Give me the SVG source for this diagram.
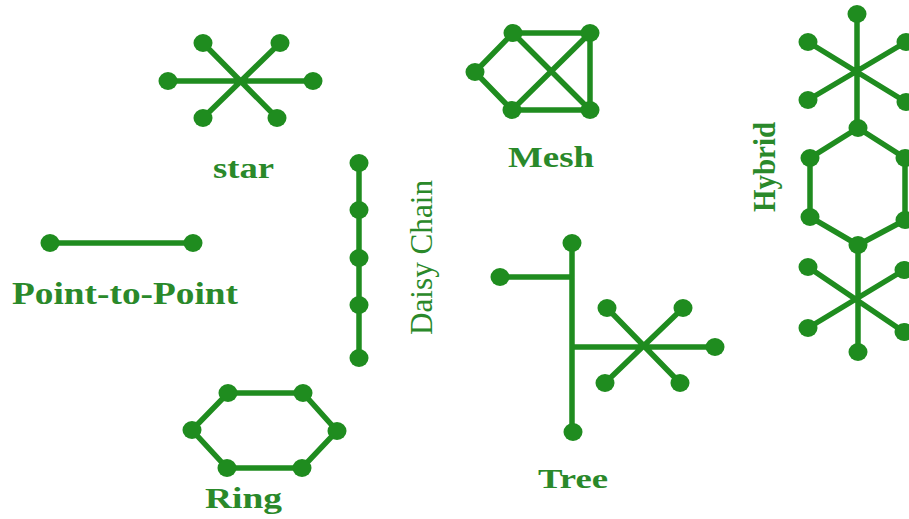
<svg xmlns="http://www.w3.org/2000/svg" width="909" height="519" viewBox="0 0 909 519">
<style>
.e{stroke:#1f8c1f;stroke-width:5.5;stroke-linecap:round;fill:none}
.n{fill:#1f8c1f}
.t{font-family:"Liberation Serif","Times New Roman",serif;font-weight:bold;fill:#2a892a}
.r{font-weight:normal}
</style>
<defs><ellipse id="d" rx="9.5" ry="9" class="n"/></defs>
<rect width="909" height="519" fill="#ffffff"/>

<g id="connectors">
  <!-- star -->
  <path class="e" d="M203,43L277,118M280,43L203,118M168,81H313"/>
  <!-- mesh -->
  <path class="e" d="M513,33H590V110H512L475,72Z M513,33L590,110 M590,33L512,110"/>
  <!-- point to point -->
  <path class="e" d="M50,243H193"/>
  <!-- daisy chain -->
  <path class="e" d="M359,163V358"/>
  <!-- ring -->
  <path class="e" d="M228,393H303L337,431L302,468H227L192,430Z"/>
  <!-- tree -->
  <path class="e" d="M572,243V432M500,277H572M572,347H715M607,308L680,383M683,308L605,383"/>
  <!-- hybrid -->
  <path class="e" d="M857,14V128M808,42L906,102M906,42L808,100"/>
  <path class="e" d="M858,128L905,158V220L858,245L810,217V158Z"/>
  <path class="e" d="M858,245V352M808,267L904,332M904,270L808,328"/>
</g>

<g id="star">
  <use href="#d" x="203" y="43"/><use href="#d" x="280" y="43"/>
  <use href="#d" x="168" y="81"/><use href="#d" x="313" y="81"/>
  <use href="#d" x="203" y="118"/><use href="#d" x="277" y="118"/>
  <text class="t" x="213" y="178" font-size="29" textLength="61" lengthAdjust="spacingAndGlyphs">star</text>
</g>

<g id="mesh">
  <use href="#d" x="513" y="33"/><use href="#d" x="590" y="33"/>
  <use href="#d" x="475" y="72"/><use href="#d" x="512" y="110"/>
  <use href="#d" x="590" y="110"/>
  <text class="t" x="508" y="167" font-size="30" textLength="86" lengthAdjust="spacingAndGlyphs">Mesh</text>
</g>

<g id="point-to-point">
  <use href="#d" x="50" y="243"/><use href="#d" x="193" y="243"/>
  <text class="t" x="12" y="304" font-size="32" textLength="226" lengthAdjust="spacingAndGlyphs">Point-to-Point</text>
</g>

<g id="daisy-chain">
  <use href="#d" x="359" y="163"/><use href="#d" x="359" y="210"/>
  <use href="#d" x="359" y="258"/><use href="#d" x="359" y="305"/>
  <use href="#d" x="359" y="358"/>
  <text class="t r" transform="translate(432,335) rotate(-90)" font-size="31" textLength="155" lengthAdjust="spacingAndGlyphs">Daisy Chain</text>
</g>

<g id="ring">
  <use href="#d" x="228" y="393"/><use href="#d" x="303" y="393"/>
  <use href="#d" x="192" y="430"/><use href="#d" x="337" y="431"/>
  <use href="#d" x="227" y="468"/><use href="#d" x="302" y="468"/>
  <text class="t" x="205" y="508" font-size="29" textLength="77" lengthAdjust="spacingAndGlyphs">Ring</text>
</g>

<g id="tree">
  <use href="#d" x="572" y="243"/><use href="#d" x="500" y="277"/>
  <use href="#d" x="573" y="432"/><use href="#d" x="715" y="347"/>
  <use href="#d" x="607" y="308"/><use href="#d" x="683" y="308"/>
  <use href="#d" x="605" y="383"/><use href="#d" x="680" y="383"/>
  <text class="t" x="538" y="488" font-size="28" textLength="70" lengthAdjust="spacingAndGlyphs">Tree</text>
</g>

<g id="hybrid">
  <use href="#d" x="857" y="14"/><use href="#d" x="808" y="42"/>
  <use href="#d" x="906" y="42"/><use href="#d" x="808" y="100"/>
  <use href="#d" x="906" y="102"/>
  <use href="#d" x="858" y="128"/><use href="#d" x="810" y="158"/>
  <use href="#d" x="905" y="158"/><use href="#d" x="810" y="217"/>
  <use href="#d" x="905" y="220"/><use href="#d" x="858" y="245"/>
  <use href="#d" x="808" y="267"/><use href="#d" x="904" y="270"/>
  <use href="#d" x="808" y="328"/><use href="#d" x="904" y="332"/>
  <use href="#d" x="858" y="352"/>
  <text class="t" transform="translate(775,212) rotate(-90)" font-size="31" textLength="90" lengthAdjust="spacingAndGlyphs">Hybrid</text>
</g>
</svg>
